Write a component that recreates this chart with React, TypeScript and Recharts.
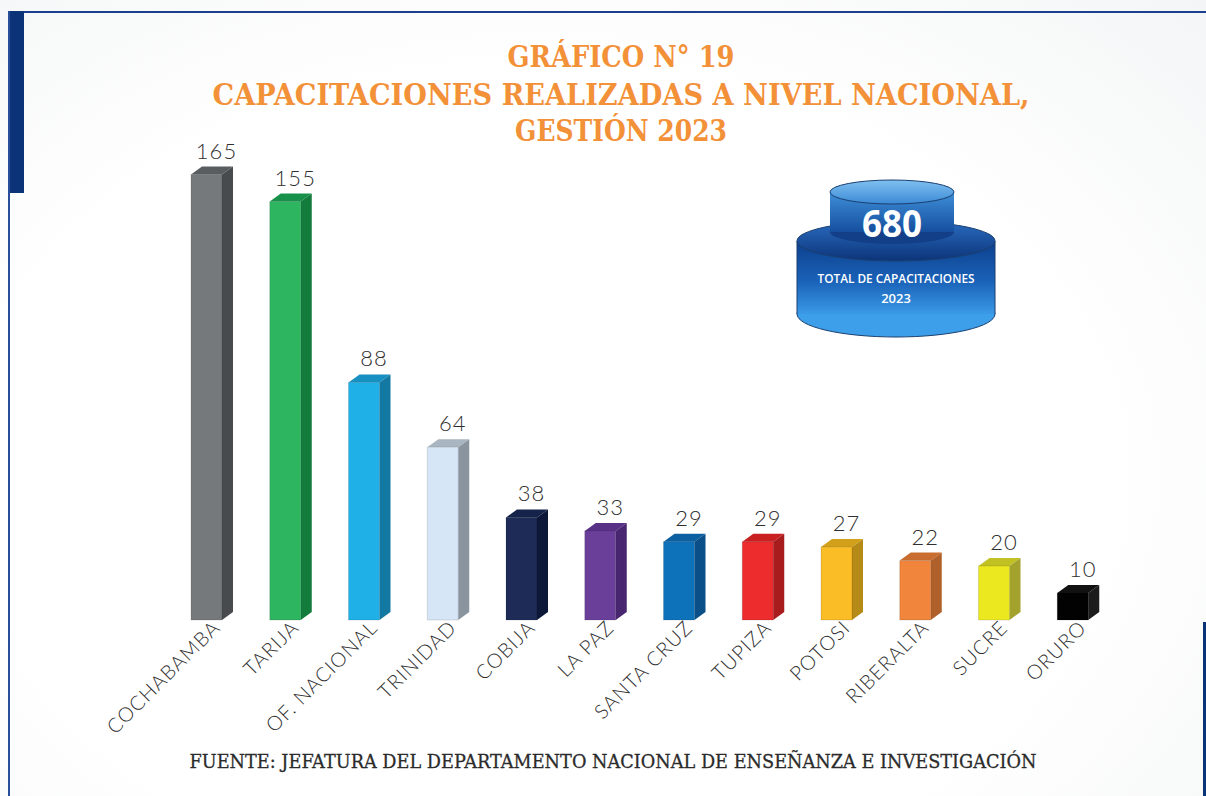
import { BarChart, Bar, XAxis, YAxis, LabelList } from 'recharts'

// Capacitaciones realizadas por oficina, gestión 2023
const categories = [
  'COCHABAMBA', 'TARIJA', 'OF. NACIONAL', 'TRINIDAD', 'COBIJA', 'LA PAZ',
  'SANTA CRUZ', 'TUPIZA', 'POTOSI', 'RIBERALTA', 'SUCRE', 'ORURO',
]
const capacitaciones = [165, 155, 88, 64, 38, 33, 29, 29, 27, 22, 20, 10]
const totalCapacitaciones = 680

const data = categories.map((name, i) => ({ name, value: capacitaciones[i] }))

// front / side / top faces of each 3D bar
const BAR_COLORS = [
  { front: '#76797c', side: '#484b4e', top: '#5a5d60' },
  { front: '#2db560', side: '#137b3c', top: '#17904a' },
  { front: '#1eb0e6', side: '#1479a2', top: '#1990c2' },
  { front: '#d6e6f6', side: '#89949e', top: '#a9b5c0' },
  { front: '#1d2b56', side: '#0d1838', top: '#152249' },
  { front: '#6a3f99', side: '#492670', top: '#583186' },
  { front: '#0e72ba', side: '#0a4f87', top: '#0c5fa1' },
  { front: '#ec2c2d', side: '#a81c1d', top: '#c92122' },
  { front: '#fbbd25', side: '#b68a16', top: '#d3a01a' },
  { front: '#f0853b', side: '#b0602a', top: '#c96c30' },
  { front: '#ece81f', side: '#a3a22c', top: '#c1c123' },
  { front: '#020202', side: '#1c1c1c', top: '#111111' },
]

const DX = 11
const DY = 8

const Bar3D = (props: any) => {
  const { x, y, width, height, index } = props
  const c = BAR_COLORS[index]
  return (
    <g>
      <polygon
        points={`${x},${y} ${x + DX},${y - DY} ${x + width + DX},${y - DY} ${x + width},${y}`}
        fill={c.top}
      />
      <polygon
        points={`${x + width},${y} ${x + width + DX},${y - DY} ${x + width + DX},${y + height - DY} ${x + width},${y + height}`}
        fill={c.side}
      />
      <rect x={x} y={y} width={width} height={height} fill={c.front} stroke="rgba(0,0,0,0.12)" strokeWidth={1} />
    </g>
  )
}

const ValueLabel = (props: any) => {
  const { x, y, width, value } = props
  return (
    <text
      x={x + width / 2 + 10}
      y={y - 16}
      textAnchor="middle"
      fontFamily="Lato, 'Open Sans', sans-serif"
      fontWeight={300}
      fontSize={22}
      letterSpacing={1}
      fill="#2f2f2f"
    >
      {value}
    </text>
  )
}

const CategoryTick = (props: any) => {
  const { x, y, payload } = props
  const ax = x + 15
  const ay = y + 9
  return (
    <text
      x={ax}
      y={ay}
      transform={`rotate(-45 ${ax} ${ay})`}
      textAnchor="end"
      fontFamily="Lato, 'Open Sans', sans-serif"
      fontWeight={300}
      fontSize={20}
      letterSpacing={1}
      fill="#2f2f2f"
    >
      {payload.value}
    </text>
  )
}

const TotalBadge = () => (
  <g>
    <defs>
      <linearGradient id="bigBody" x1="0" y1="0" x2="0" y2="1">
        <stop offset="0%" stopColor="#0d3f8c" />
        <stop offset="55%" stopColor="#1a62b8" />
        <stop offset="100%" stopColor="#3a9ae6" />
      </linearGradient>
      <linearGradient id="bigTop" x1="0" y1="0" x2="0" y2="1">
        <stop offset="0%" stopColor="#2a6cc0" />
        <stop offset="100%" stopColor="#0c3479" />
      </linearGradient>
      <linearGradient id="smallBody" x1="0" y1="0" x2="0" y2="1">
        <stop offset="0%" stopColor="#3f8fd8" />
        <stop offset="100%" stopColor="#154f9e" />
      </linearGradient>
      <linearGradient id="smallTop" x1="0" y1="0" x2="0" y2="1">
        <stop offset="0%" stopColor="#7fc0f0" />
        <stop offset="100%" stopColor="#3c8ad6" />
      </linearGradient>
    </defs>
    {/* big cylinder */}
    <ellipse cx={896} cy={314} rx={99} ry={23} fill="#3d9fea" stroke="#1a3f70" strokeWidth={1} />
    <rect x={797} y={241} width={198} height={73} fill="url(#bigBody)" />
    <line x1={797} y1={241} x2={797} y2={314} stroke="#1a3f70" />
    <line x1={995} y1={241} x2={995} y2={314} stroke="#1a3f70" />
    <ellipse cx={896} cy={241} rx={99} ry={20} fill="url(#bigTop)" stroke="#1a3f70" strokeWidth={1} />
    {/* small cylinder */}
    <ellipse cx={892} cy={232} rx={62} ry={12} fill="#123f88" />
    <rect x={830} y={192} width={124} height={40} fill="url(#smallBody)" />
    <ellipse cx={892} cy={192} rx={62} ry={12} fill="url(#smallTop)" stroke="#1a3f70" strokeWidth={1} />
    <text
      x={892}
      y={237}
      textAnchor="middle"
      fontFamily="'Open Sans', sans-serif"
      fontWeight={700}
      fontSize={38}
      fill="#ffffff"
      textLength={60}
      lengthAdjust="spacingAndGlyphs"
    >
      {totalCapacitaciones}
    </text>
    <text
      x={896}
      y={283}
      textAnchor="middle"
      fontFamily="'Open Sans', sans-serif"
      fontWeight={600}
      fontSize={13}
      fill="#ffffff"
      textLength={157}
      lengthAdjust="spacingAndGlyphs"
    >
      TOTAL DE CAPACITACIONES
    </text>
    <text
      x={896}
      y={303}
      textAnchor="middle"
      fontFamily="'Open Sans', sans-serif"
      fontWeight={600}
      fontSize={13}
      fill="#ffffff"
    >
      2023
    </text>
  </g>
)

const titleStyle = {
  fontFamily: "'DejaVu Serif', serif",
  fontWeight: 700,
  fontSize: 30,
  fill: '#f39139',
}

export default function App() {
  return (
    <div
      style={{
        position: 'absolute',
        left: 0,
        top: 0,
        width: 1206,
        height: 796,
        overflow: 'hidden',
        background: 'radial-gradient(ellipse at 45% 60%, #ffffff 60%, #f4f5f6 100%)',
      }}
    >
      {/* frame */}
      <div style={{ position: 'absolute', left: 8, top: 11, width: 1198, height: 2, background: '#1d3f8f' }} />
      <div style={{ position: 'absolute', left: 8, top: 11, width: 16, height: 182, background: '#0b3478' }} />
      <div style={{ position: 'absolute', left: 8, top: 11, width: 2, height: 785, background: '#2a4f9a' }} />
      <div style={{ position: 'absolute', left: 1203, top: 622, width: 3, height: 174, background: '#0b3478' }} />

      <div style={{ position: 'absolute', left: 0, top: 0 }}>
        <BarChart
          width={1206}
          height={796}
          data={data}
          margin={{ top: 80, right: 94, left: 167, bottom: 36 }}
        >
          <XAxis
            dataKey="name"
            height={140}
            axisLine={false}
            tickLine={false}
            tickSize={0}
            tickMargin={0}
            interval={0}
            tick={<CategoryTick />}
          />
          <YAxis hide domain={[0, 200]} />
          <Bar dataKey="value" barSize={31} shape={<Bar3D />} isAnimationActive={false}>
            <LabelList dataKey="value" content={<ValueLabel />} />
          </Bar>
        </BarChart>
      </div>

      <svg
        width={1206}
        height={796}
        style={{ position: 'absolute', left: 0, top: 0, pointerEvents: 'none' }}
      >
        <text x={621} y={67} textAnchor="middle" textLength={227} lengthAdjust="spacingAndGlyphs" {...titleStyle}>
          GRÁFICO N° 19
        </text>
        <text x={621} y={105} textAnchor="middle" textLength={817} lengthAdjust="spacingAndGlyphs" {...titleStyle}>
          CAPACITACIONES REALIZADAS A NIVEL NACIONAL,
        </text>
        <text x={621} y={141} textAnchor="middle" textLength={212} lengthAdjust="spacingAndGlyphs" {...titleStyle}>
          GESTIÓN 2023
        </text>
        <TotalBadge />
        <text
          x={613}
          y={768}
          textAnchor="middle"
          fontFamily="'DejaVu Serif', serif"
          fontSize={18}
          fill="#2b2b2b"
          stroke="#2b2b2b"
          strokeWidth={0.3}
          textLength={847}
          lengthAdjust="spacingAndGlyphs"
        >
          FUENTE: JEFATURA DEL DEPARTAMENTO NACIONAL DE ENSEÑANZA E INVESTIGACIÓN
        </text>
      </svg>
    </div>
  )
}
